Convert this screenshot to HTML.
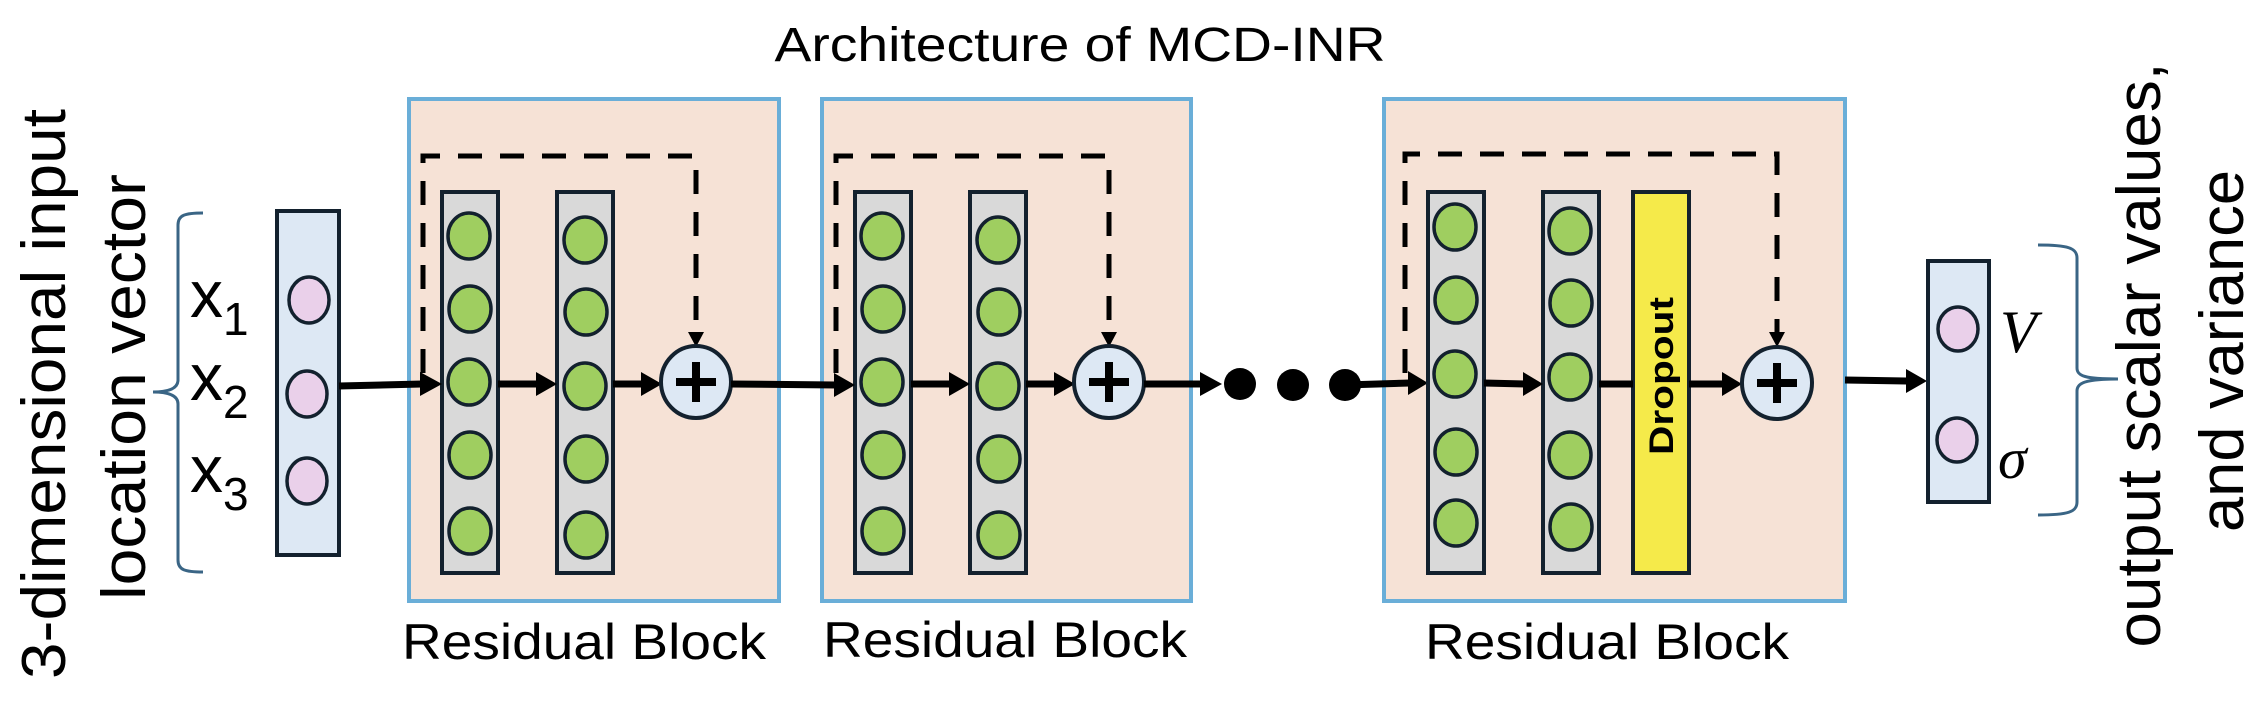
<!DOCTYPE html>
<html><head><meta charset="utf-8"><style>html,body{margin:0;padding:0;background:#fff}svg{display:block}</style></head>
<body>
<svg width="2260" height="710" viewBox="0 0 2260 710" xmlns="http://www.w3.org/2000/svg" font-family="Liberation Sans, sans-serif">
<defs>
<marker id="ah" markerWidth="10" markerHeight="10" refX="9" refY="5" orient="auto" markerUnits="userSpaceOnUse" viewBox="0 0 10 10">
</marker>
</defs>
<!-- title -->
<text x="1080" y="61" font-size="48" text-anchor="middle" textLength="611" lengthAdjust="spacingAndGlyphs">Architecture of MCD-INR</text>

<!-- left vertical texts -->
<text transform="translate(65,394) rotate(-90)" font-size="62" text-anchor="middle" textLength="570" lengthAdjust="spacingAndGlyphs">3-dimensional input</text>
<text transform="translate(145,387) rotate(-90)" font-size="62" text-anchor="middle" textLength="426" lengthAdjust="spacingAndGlyphs">location vector</text>

<!-- left brace -->
<path d="M203,213 C185,213 178,215 178,225 L178,380 C178,388 170,392 153,392 C170,392 178,396 178,404 L178,560 C178,570 185,572 203,572" fill="none" stroke="#3a6585" stroke-width="3"/>

<!-- x labels -->
<g font-size="66">
<text x="190" y="317">x<tspan font-size="46" dy="18">1</tspan></text>
<text x="190" y="400">x<tspan font-size="46" dy="18">2</tspan></text>
<text x="190" y="492">x<tspan font-size="46" dy="18">3</tspan></text>
</g>

<!-- input column -->
<rect x="277" y="211" width="62" height="344" fill="#dde8f4" stroke="#13212e" stroke-width="4"/>
<g fill="#ead0ea" stroke="#13212e" stroke-width="3.5">
<ellipse cx="309" cy="300" rx="20" ry="23"/>
<ellipse cx="307" cy="394" rx="20" ry="23"/>
<ellipse cx="307" cy="481" rx="20" ry="23"/>
</g>

<!-- blocks -->
<g fill="#f6e2d6" stroke="#6aaed8" stroke-width="4">
<rect x="409" y="99" width="370" height="502"/>
<rect x="822" y="99" width="369" height="502"/>
<rect x="1384" y="99" width="461" height="502"/>
</g>

<!-- block labels -->
<g font-size="50" text-anchor="middle">
<text x="584" y="659" textLength="364" lengthAdjust="spacingAndGlyphs">Residual Block</text>
<text x="1005" y="657" textLength="364" lengthAdjust="spacingAndGlyphs">Residual Block</text>
<text x="1607" y="659" textLength="364" lengthAdjust="spacingAndGlyphs">Residual Block</text>
</g>

<!-- block 1 -->
<g id="b1">
<path d="M423,373 L423,156 L696,156 L696,334" fill="none" stroke="#000" stroke-width="5" stroke-dasharray="24,18"/>
<polygon points="688,332 704,332 696,347" fill="#000"/>
<rect x="442" y="192" width="56" height="381" fill="#d9d9d9" stroke="#13212e" stroke-width="4"/>
<rect x="557" y="192" width="56" height="381" fill="#d9d9d9" stroke="#13212e" stroke-width="4"/>
<g fill="#9fce60" stroke="#13212e" stroke-width="3.5">
<ellipse cx="469" cy="236" rx="21" ry="23"/><ellipse cx="470" cy="309" rx="21" ry="23"/><ellipse cx="469" cy="382" rx="21" ry="23"/><ellipse cx="470" cy="455" rx="21" ry="23"/><ellipse cx="470" cy="531" rx="21" ry="23"/>
<ellipse cx="585" cy="240" rx="21" ry="23"/><ellipse cx="586" cy="312" rx="21" ry="23"/><ellipse cx="585" cy="386" rx="21" ry="23"/><ellipse cx="586" cy="459" rx="21" ry="23"/><ellipse cx="586" cy="535" rx="21" ry="23"/>
</g>
<line x1="498" y1="384" x2="538" y2="384" stroke="#000" stroke-width="7"/>
<polygon points="536,372 557,384 536,396" fill="#000"/>
<line x1="613" y1="384" x2="643" y2="384" stroke="#000" stroke-width="7"/>
<polygon points="641,372 662,384 641,396" fill="#000"/>
<ellipse cx="696" cy="382" rx="35" ry="36" fill="#dde8f4" stroke="#13212e" stroke-width="4"/>
<rect x="676" y="378" width="40" height="8" fill="#000"/>
<rect x="692" y="362" width="8" height="40" fill="#000"/>
</g>
<g transform="translate(413,0)">
<path d="M423,373 L423,156 L696,156 L696,334" fill="none" stroke="#000" stroke-width="5" stroke-dasharray="24,18"/>
<polygon points="688,332 704,332 696,347" fill="#000"/>
<rect x="442" y="192" width="56" height="381" fill="#d9d9d9" stroke="#13212e" stroke-width="4"/>
<rect x="557" y="192" width="56" height="381" fill="#d9d9d9" stroke="#13212e" stroke-width="4"/>
<g fill="#9fce60" stroke="#13212e" stroke-width="3.5">
<ellipse cx="469" cy="236" rx="21" ry="23"/><ellipse cx="470" cy="309" rx="21" ry="23"/><ellipse cx="469" cy="382" rx="21" ry="23"/><ellipse cx="470" cy="455" rx="21" ry="23"/><ellipse cx="470" cy="531" rx="21" ry="23"/>
<ellipse cx="585" cy="240" rx="21" ry="23"/><ellipse cx="586" cy="312" rx="21" ry="23"/><ellipse cx="585" cy="386" rx="21" ry="23"/><ellipse cx="586" cy="459" rx="21" ry="23"/><ellipse cx="586" cy="535" rx="21" ry="23"/>
</g>
<line x1="498" y1="384" x2="538" y2="384" stroke="#000" stroke-width="7"/>
<polygon points="536,372 557,384 536,396" fill="#000"/>
<line x1="613" y1="384" x2="643" y2="384" stroke="#000" stroke-width="7"/>
<polygon points="641,372 662,384 641,396" fill="#000"/>
<ellipse cx="696" cy="382" rx="35" ry="36" fill="#dde8f4" stroke="#13212e" stroke-width="4"/>
<rect x="676" y="378" width="40" height="8" fill="#000"/>
<rect x="692" y="362" width="8" height="40" fill="#000"/>
</g>

<!-- connectors between -->
<line x1="339" y1="386" x2="422" y2="384" stroke="#000" stroke-width="7"/>
<polygon points="420,372 442,384 420,396" fill="#000"/>
<line x1="731" y1="384" x2="836" y2="385" stroke="#000" stroke-width="7"/>
<polygon points="834,373 855,385 834,397" fill="#000"/>
<line x1="1144" y1="384" x2="1202" y2="384" stroke="#000" stroke-width="7"/>
<polygon points="1200,372 1222,384 1200,396" fill="#000"/>
<circle cx="1240" cy="384" r="16" fill="#000"/>
<circle cx="1293" cy="385" r="16" fill="#000"/>
<circle cx="1345" cy="385" r="16" fill="#000"/>
<line x1="1345" y1="385" x2="1410" y2="383" stroke="#000" stroke-width="7"/>
<polygon points="1408,371 1428,383 1408,395" fill="#000"/>

<!-- block 3 -->
<path d="M1405,373 L1405,154 L1777,154 L1777,334" fill="none" stroke="#000" stroke-width="5" stroke-dasharray="24,18"/>
<polygon points="1769,332 1785,332 1777,347" fill="#000"/>
<rect x="1428" y="192" width="56" height="381" fill="#d9d9d9" stroke="#13212e" stroke-width="4"/>
<rect x="1543" y="192" width="56" height="381" fill="#d9d9d9" stroke="#13212e" stroke-width="4"/>
<rect x="1633" y="192" width="56" height="381" fill="#f5ea4a" stroke="#13212e" stroke-width="4"/>
<g fill="#9fce60" stroke="#13212e" stroke-width="3.5">
<ellipse cx="1455" cy="227" rx="21" ry="23"/><ellipse cx="1456" cy="300" rx="21" ry="23"/><ellipse cx="1455" cy="374" rx="21" ry="23"/><ellipse cx="1456" cy="452" rx="21" ry="23"/><ellipse cx="1456" cy="523" rx="21" ry="23"/>
<ellipse cx="1570" cy="231" rx="21" ry="23"/><ellipse cx="1571" cy="303" rx="21" ry="23"/><ellipse cx="1570" cy="377" rx="21" ry="23"/><ellipse cx="1570" cy="455" rx="21" ry="23"/><ellipse cx="1571" cy="527" rx="21" ry="23"/>
</g>
<line x1="1484" y1="383" x2="1525" y2="384" stroke="#000" stroke-width="7"/>
<polygon points="1523,372 1543,384 1523,396" fill="#000"/>
<line x1="1599" y1="384" x2="1633" y2="384" stroke="#000" stroke-width="7"/>
<line x1="1689" y1="384" x2="1724" y2="384" stroke="#000" stroke-width="7"/>
<polygon points="1722,372 1742,384 1722,396" fill="#000"/>
<text transform="translate(1673,376) rotate(-90)" font-size="34" font-weight="bold" text-anchor="middle" textLength="158" lengthAdjust="spacingAndGlyphs">Dropout</text>
<ellipse cx="1777" cy="383" rx="35" ry="36" fill="#dde8f4" stroke="#13212e" stroke-width="4"/>
<rect x="1757" y="379" width="40" height="8" fill="#000"/>
<rect x="1773" y="363" width="8" height="40" fill="#000"/>

<!-- output -->
<line x1="1845" y1="380" x2="1908" y2="381" stroke="#000" stroke-width="7"/>
<polygon points="1906,369 1927,381 1906,393" fill="#000"/>
<rect x="1928" y="261" width="61" height="241" fill="#dde8f4" stroke="#13212e" stroke-width="4"/>
<g fill="#ead0ea" stroke="#13212e" stroke-width="3.5">
<ellipse cx="1958" cy="329" rx="20" ry="22"/>
<ellipse cx="1957" cy="440" rx="20" ry="22"/>
</g>
<text x="2000" y="352" font-family="Liberation Serif, serif" font-style="italic" font-size="60">V</text>
<text x="1998" y="478" font-family="Liberation Serif, serif" font-style="italic" font-size="58">σ</text>
<path d="M2038,245 C2068,245 2077,248 2077,258 L2077,368 C2077,376 2085,379 2118,379 C2085,379 2077,383 2077,391 L2077,502 C2077,512 2068,515 2038,515" fill="none" stroke="#3a6585" stroke-width="3"/>

<text transform="translate(2160,355) rotate(-90)" font-size="62" text-anchor="middle" textLength="585" lengthAdjust="spacingAndGlyphs">output scalar values,</text>
<text transform="translate(2243,351) rotate(-90)" font-size="62" text-anchor="middle" textLength="362" lengthAdjust="spacingAndGlyphs">and variance</text>
</svg>
</body></html>
